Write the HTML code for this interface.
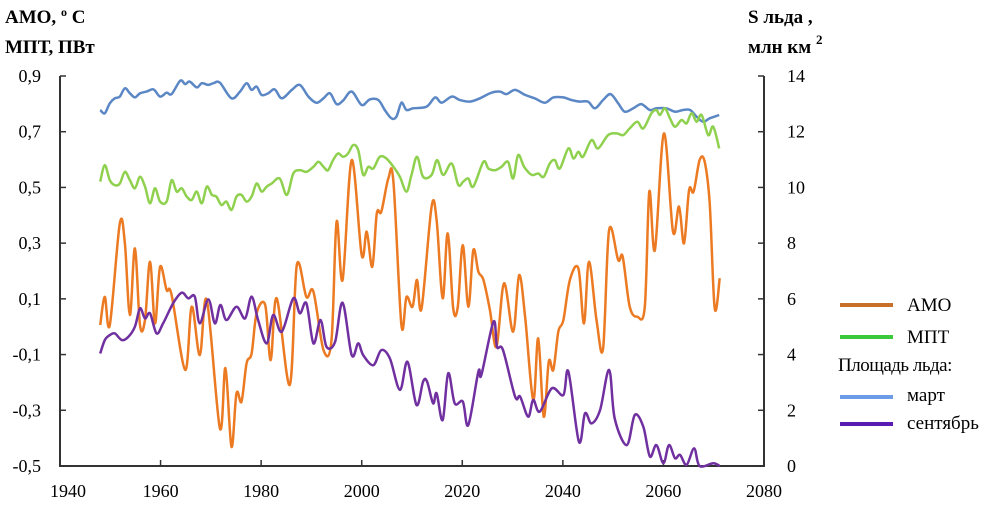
<!DOCTYPE html>
<html><head><meta charset="utf-8">
<style>
body{margin:0;background:#fff;}
svg{display:block;font-family:"Liberation Serif","DejaVu Serif",serif;}
</style></head>
<body>
<svg id="chart" width="1000" height="529" viewBox="0 0 1000 529" xmlns="http://www.w3.org/2000/svg">
<g font-weight="bold" font-size="19">
<text x="5" y="23">АМО, <tspan font-size="12" dy="-7">o</tspan><tspan dy="7"> С</tspan></text>
<text x="5" y="53">МПТ, ПВт</text>
</g>
<g font-weight="bold" font-size="19">
<text x="748" y="23">S льда ,</text>
<text x="748" y="53">млн км <tspan font-size="13" dy="-9">2</tspan></text>
</g>
<g id="axes"></g>
<g id="series"></g>
<g font-size="19">
<g><line x1="840" y1="305" x2="893" y2="305" stroke="#C8702A" stroke-width="4"/><text x="907" y="311">АМО</text></g>
<g><line x1="840" y1="337" x2="893" y2="337" stroke="#3CC83C" stroke-width="4"/><text x="907" y="343">МПТ</text></g>
<text x="838" y="371" letter-spacing="-0.5">Площадь льда:</text>
<g><line x1="840" y1="397" x2="893" y2="397" stroke="#6C9BE8" stroke-width="4"/><text x="907" y="401">март</text></g>
<g><line x1="840" y1="424" x2="893" y2="424" stroke="#5A1AB4" stroke-width="4"/><text x="907" y="429">сентябрь</text></g>
</g>
</svg>
<script>
const xTicks=[1940,1960,1980,2000,2020,2040,2060,2080];
const leftTicks=[0.9,0.7,0.5,0.3,0.1,-0.1,-0.3,-0.5];
const leftTickLabels=["0,9","0,7","0,5","0,3","0,1","-0,1","-0,3","-0,5"];
const rightTicks=[14,12,10,8,6,4,2,0];
const amoYears=[1948,1948.9,1949.9,1951.9,1952.9,1953.9,1954.9,1955.9,1956.9,1957.9,1958.9,1959.9,1961.2,1962.2,1964.9,1966.2,1967.8,1969.2,1971.8,1972.9,1974.1,1975.1,1976.1,1977.1,1978.1,1979.1,1980.8,1981.9,1983.1,1985.7,1987.1,1989,1990.4,1992.4,1994,1995,1996.2,1998,2000,2001,2002.1,2003,2003.9,2005.3,2006.3,2007.9,2008.9,2010.1,2011,2011.9,2013.9,2014.9,2016.1,2017.1,2018.2,2019.1,2020.1,2021.2,2022.2,2023.2,2024.2,2025.5,2026.8,2028.3,2030.1,2031.3,2032.5,2034.1,2035.1,2036.2,2037.2,2038.1,2039.1,2040.1,2041.4,2043.1,2044.2,2045.2,2046.7,2048,2049.2,2051,2051.9,2053.3,2054.8,2056.3,2057.2,2058.3,2060.1,2061.9,2063.1,2064.1,2065.1,2066,2067.2,2068.2,2069.2,2070.2,2071.2];
const amoValues=[0.006,0.107,0.006,0.371,0.299,0.042,0.281,0.006,0.024,0.233,0.012,0.215,0.132,0.114,-0.155,0.072,-0.102,0.096,-0.365,-0.149,-0.431,-0.239,-0.269,-0.131,-0.096,0.048,0.078,-0.12,0.102,-0.209,0.221,0.107,0.126,-0.084,-0.048,0.377,0.168,0.598,0.257,0.341,0.215,0.407,0.413,0.533,0.521,0.006,0.107,0.072,0.168,0.066,0.431,0.383,0.102,0.335,0.066,0.072,0.293,0.072,0.275,0.197,0.168,0.06,-0.072,0.156,-0.018,0.185,0.036,-0.263,-0.042,-0.323,-0.125,-0.155,-0.018,0.024,0.168,0.209,0.012,0.233,0.024,-0.078,0.347,0.239,0.251,0.072,0.036,0.072,0.485,0.275,0.694,0.341,0.431,0.299,0.491,0.485,0.598,0.592,0.443,0.066,0.174];
const mptYears=[1948,1948.9,1949.9,1950.9,1951.9,1952.9,1953.9,1954.9,1955.9,1956.9,1957.9,1958.9,1959.9,1961.2,1962.2,1963.2,1964.2,1965.2,1966.2,1967.2,1968.2,1969.2,1970.2,1971.1,1972.1,1973.1,1974.1,1975.1,1976.1,1977.1,1978.1,1979.1,1980.1,1981.1,1982.1,1983.7,1985.1,1986.4,1987.7,1989,1990.4,1991.4,1992.4,1993.3,1994.3,1995.3,1996.3,1997.3,1998.3,1999.3,2000.3,2001.3,2002.3,2003.6,2004.9,2006.3,2007.6,2008.9,2009.9,2011,2012.2,2013.9,2015,2016.2,2017.9,2019.2,2020.2,2021.2,2022.2,2024.2,2025.2,2026.5,2027.8,2029.1,2030.1,2031.1,2032.3,2033.8,2035.1,2036.2,2037.4,2038.4,2039.4,2041.1,2042.1,2043.1,2044,2045.7,2047,2049,2050.7,2052,2053.3,2054.8,2056,2057.6,2058.6,2059.3,2060.3,2061.3,2062.3,2063.6,2064.6,2065.6,2066.6,2067.6,2068.9,2069.9,2071.1];
const mptValues=[0.521,0.58,0.526,0.508,0.514,0.556,0.526,0.497,0.538,0.503,0.443,0.497,0.449,0.449,0.526,0.485,0.497,0.467,0.455,0.485,0.443,0.503,0.473,0.467,0.437,0.449,0.419,0.467,0.473,0.449,0.467,0.514,0.485,0.503,0.514,0.532,0.473,0.55,0.562,0.556,0.574,0.592,0.574,0.562,0.598,0.622,0.61,0.622,0.652,0.634,0.545,0.574,0.568,0.61,0.604,0.574,0.538,0.485,0.545,0.61,0.538,0.545,0.598,0.545,0.586,0.509,0.521,0.532,0.503,0.592,0.568,0.562,0.574,0.592,0.532,0.616,0.574,0.545,0.55,0.538,0.586,0.598,0.568,0.64,0.604,0.628,0.61,0.67,0.64,0.688,0.694,0.688,0.712,0.736,0.712,0.766,0.778,0.76,0.784,0.748,0.718,0.742,0.73,0.766,0.736,0.76,0.688,0.718,0.64];
const marchYears=[1948,1948.9,1949.9,1950.9,1951.9,1952.9,1953.9,1954.9,1955.9,1957.2,1958.6,1959.9,1961.2,1962.2,1963.9,1964.9,1965.8,1967.2,1968.2,1969.5,1970.5,1971.8,1974.1,1975.8,1977.1,1978.1,1979.1,1980.1,1981.4,1982.7,1984.1,1986.1,1987.7,1989.4,1991,1992.4,1993.7,1995,1996.3,1998,2000,2001.6,2003.3,2004.6,2005.9,2006.9,2007.9,2008.9,2010.2,2012.9,2014.6,2015.9,2017.9,2019.5,2021.5,2023.5,2025.8,2027.5,2028.8,2030.5,2032.5,2034.4,2036.4,2038.1,2040.1,2041.7,2043.4,2045,2046.4,2048,2049.5,2051,2052.3,2054,2055.6,2057.3,2058.6,2060.6,2062.3,2063.9,2065.3,2066.6,2067.9,2069.2,2071.1];
const marchValues=[12.78,12.66,13.02,13.2,13.26,13.56,13.38,13.23,13.38,13.44,13.52,13.26,13.4,13.35,13.83,13.71,13.8,13.59,13.74,13.68,13.74,13.76,13.2,13.44,13.74,13.5,13.62,13.32,13.38,13.52,13.2,13.5,13.68,13.26,13.04,13.2,13.38,12.99,13.12,13.44,12.96,13.16,13.14,12.78,12.48,12.54,13.04,12.78,12.84,12.9,13.23,13.04,13.26,13.14,13.08,13.2,13.4,13.44,13.35,13.5,13.32,13.2,13.04,13.23,13.23,13.14,13.08,13.08,12.84,13.14,13.35,13.02,12.72,12.84,12.99,12.78,12.84,12.84,12.72,12.78,12.78,12.54,12.36,12.48,12.6];
const septYears=[1948,1948.9,1949.9,1950.9,1952.3,1953.6,1954.9,1955.9,1956.9,1957.9,1959.2,1960.5,1962.5,1964.2,1965.5,1966.8,1967.8,1969.5,1970.8,1971.9,1973.1,1975.1,1976.8,1978.1,1979.4,1981.1,1982.4,1984.1,1986.4,1987.7,1989,1990.4,1991.8,1993,1994.7,1996.2,1998,1999.3,2000.3,2002.3,2003.9,2005.6,2007.6,2009.1,2010.9,2012.2,2013,2014.2,2014.9,2016.1,2017.2,2018.5,2020.1,2021.2,2023.2,2023.8,2026.2,2026.9,2028.1,2030.5,2031.5,2033.1,2034.1,2035.4,2037.8,2040.1,2041.1,2043.2,2044.4,2045.7,2047.4,2049.2,2050.3,2052.7,2054.3,2056,2057.3,2058.6,2060,2061.1,2062.3,2063.3,2064.6,2066.1,2067.2,2069.9,2071.2];
const septValues=[4.04,4.52,4.7,4.76,4.52,4.64,5,5.66,5.3,5.48,4.76,5.12,5.84,6.22,6.02,6.08,5.12,5.98,5.12,5.78,5.24,5.72,5.3,6.08,5.24,4.4,5.42,4.82,6.02,5.48,5.84,4.4,5.24,4.28,4.46,5.86,3.98,4.4,3.98,3.62,4.16,3.86,2.73,3.74,2.19,3.03,3.03,2.25,2.61,1.65,3.33,2.25,2.31,1.47,3.39,3.27,5.18,4.28,4.16,2.49,2.49,1.77,2.37,1.95,2.79,2.55,3.39,0.87,1.89,1.53,2.01,3.45,1.71,0.75,1.83,1.41,0.34,0.75,0.1,0.75,0.28,0.4,0.04,0.63,0,0.1,0];

const X0=60,X1=764,YT=76,YB=466;
const xs=y=>X0+(y-1940)/140*(X1-X0);
const yl=v=>YB-(v+0.5)/1.4*(YB-YT);
const yr=v=>YB-v/14*(YB-YT);
const NS="http://www.w3.org/2000/svg";
function mk(tag,attrs,parent){const e=document.createElementNS(NS,tag);for(const k in attrs)e.setAttribute(k,attrs[k]);parent.appendChild(e);return e;}
const axes=document.getElementById('axes');
const ser=document.getElementById('series');
let el;
el=mk('path',{d:`M${X0},${YT}V${YB}H${X1}V${YT}`,fill:'none',stroke:'#333','stroke-width':2},axes);


xTicks.forEach(t=>{
  el=mk('line',{x1:xs(t),x2:xs(t),y1:YB,y2:YB-6,stroke:'#333','stroke-width':1.5},axes);
  
  
  el=mk('text',{x:xs(t)+(t===1940?8:0),y:YB+31,'text-anchor':'middle','font-size':18},axes);
  el.textContent=t;
  
  
});
leftTicks.forEach((t,i)=>{
  el=mk('line',{x1:X0,x2:X0+6,y1:yl(t),y2:yl(t),stroke:'#333','stroke-width':1.5},axes);
  
  
  el=mk('text',{x:41,y:yl(t)+6,'text-anchor':'end','font-size':18},axes);
  el.textContent=leftTickLabels[i];
  
  
});
rightTicks.forEach(t=>{
  el=mk('line',{x1:X1-6,x2:X1,y1:yr(t),y2:yr(t),stroke:'#333','stroke-width':1.5},axes);
  
  
  el=mk('text',{x:787,y:yr(t)+6,'text-anchor':'start','font-size':18},axes);
  el.textContent=t;
  
  
});
function smooth(pts){
  let d=`M${pts[0][0].toFixed(1)},${pts[0][1].toFixed(1)}`;
  for(let i=0;i<pts.length-1;i++){
    const p0=pts[Math.max(0,i-1)],p1=pts[i],p2=pts[i+1],p3=pts[Math.min(pts.length-1,i+2)];
    const c1=[p1[0]+(p2[0]-p0[0])/6,p1[1]+(p2[1]-p0[1])/6];
    const c2=[p2[0]-(p3[0]-p1[0])/6,p2[1]-(p3[1]-p1[1])/6];
    d+=`C${c1[0].toFixed(1)},${c1[1].toFixed(1)} ${c2[0].toFixed(1)},${c2[1].toFixed(1)} ${p2[0].toFixed(1)},${p2[1].toFixed(1)}`;
  }
  return d;
}
function series(yrs,vals,ys,color,name){
  const pts=yrs.map((y,i)=>[xs(y),ys(vals[i])]);
  const p=mk('path',{d:smooth(pts),fill:'none',stroke:color,'stroke-width':2.5,'stroke-linejoin':'round'},ser);
  
  
}
series(marchYears,marchValues,yr,'#5B87C5','march-ice-line');
series(mptYears,mptValues,yl,'#8FD14F','mpt-line');
series(amoYears,amoValues,yl,'#EC7A22','amo-line');
series(septYears,septValues,yr,'#7030A0','september-ice-line');
</script>
</body></html>
